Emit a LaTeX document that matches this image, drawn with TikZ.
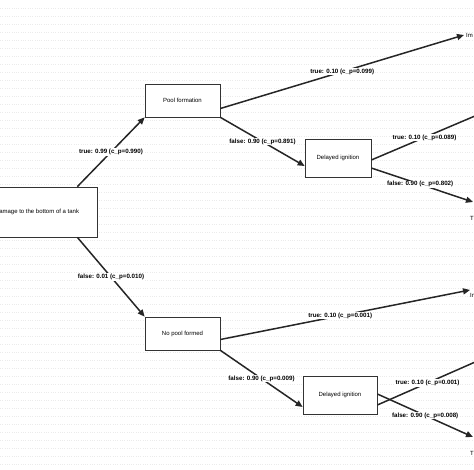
\documentclass[tikz,border=0pt]{standalone}
\usepackage{fontspec}
\setmainfont{Liberation Sans}
\usetikzlibrary{arrows.meta}
\begin{document}
\begin{tikzpicture}[x=1pt,y=-1pt,
  box/.style={draw=black!80,fill=white,line width=0.7pt,font=\fontsize{6}{7}\selectfont,inner sep=0},
  edge/.style={draw=black!85,line width=1.5pt,-{Triangle[length=7pt,width=6pt]}},
  lab/.style={fill=white,inner sep=0.8pt,font=\fontsize{6.2}{7}\selectfont\bfseries},
  term/.style={font=\fontsize{6}{7}\selectfont,inner sep=0,anchor=north west}]
\useasboundingbox (0,0) rectangle (474,470);
\clip (0,0) rectangle (474,470);
\foreach \y in {8,16,...,468} \draw[black!8,dotted,line width=0.3pt] (0,\y) -- (474,\y);
\node[box,minimum width=120pt,minimum height=50pt] (root) at (37,212) {Damage to the bottom of a tank};
\node[box,minimum width=75pt,minimum height=33pt] (pool) at (182.5,100.5) {Pool formation};
\node[box,minimum width=66pt,minimum height=38pt] (d1) at (338,158) {Delayed ignition};
\node[box,minimum width=75pt,minimum height=33pt] (nopool) at (182.5,333.5) {No pool formed};
\node[box,minimum width=74pt,minimum height=38pt] (d2) at (340,395) {Delayed ignition};
\coordinate (t1) at (464,35);
\coordinate (t2) at (482,113);
\coordinate (t3) at (473,202);
\coordinate (t4) at (470,290);
\coordinate (t5) at (482,359);
\coordinate (t6) at (473,437);
\node[term] (i1) at (466,33) {Im};
\node[term] (e3) at (470,216) {T};
\node[term] (i4) at (470,293) {Im};
\node[term] (e6) at (470,451) {T};
\draw[edge] ([xshift=-20pt]root.north east) -- (pool.south west) node[lab,pos=0.5] {true: 0.99 (c\_p=0.990)};
\draw[edge] ([xshift=-20pt]root.south east) -- (nopool.north west) node[lab,pos=0.5] {false: 0.01 (c\_p=0.010)};
\draw[edge] ([yshift=-8pt]pool.east) -- (t1) node[lab,pos=0.5] {true: 0.10 (c\_p=0.099)};
\draw[edge] (pool.south east) -- ([yshift=-8pt]d1.west) node[lab,pos=0.5] {false: 0.90 (c\_p=0.891)};
\draw[edge] ([yshift=-2pt]d1.east) -- (t2) node[lab,pos=0.48] {true: 0.10 (c\_p=0.089)};
\draw[edge] ([yshift=-10pt]d1.east) -- (t3) node[lab,pos=0.48] {false: 0.90 (c\_p=0.802)};
\draw[edge] ([yshift=-6pt]nopool.east) -- (t4) node[lab,pos=0.48] {true: 0.10 (c\_p=0.001)};
\draw[edge] (nopool.south east) -- ([yshift=-12pt]d2.west) node[lab,pos=0.5] {false: 0.90 (c\_p=0.009)};
\draw[edge] ([yshift=-10pt]d2.east) -- (t5) node[lab,pos=0.48] {true: 0.10 (c\_p=0.001)};
\draw[edge] ([yshift=1pt]d2.east) -- (t6) node[lab,pos=0.5] {false: 0.90 (c\_p=0.008)};
\end{tikzpicture}
\end{document}
